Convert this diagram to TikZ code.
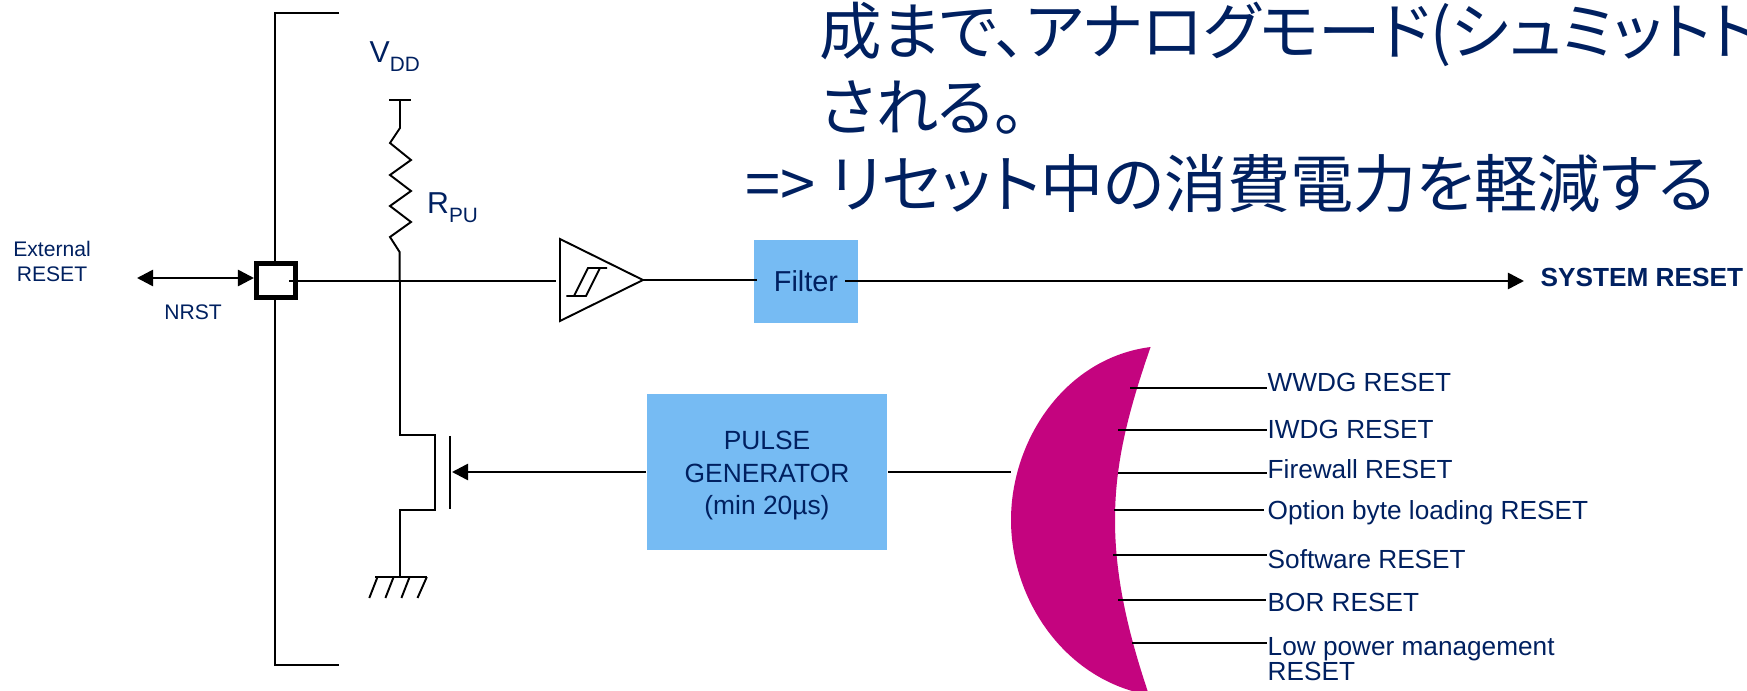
\documentclass[tikz,border=0pt]{standalone}
\usepackage{fontspec}
\setmainfont{Liberation Sans}
\newfontfamily\cjk[RawFeature={+palt}]{Noto Sans CJK JP}
\usetikzlibrary{arrows.meta}
\definecolor{navytxt}{HTML}{002060}
\definecolor{boxblue}{HTML}{76BBF3}
\definecolor{lensred}{HTML}{C4047F}
\tikzset{
  wire/.style={black,line width=0.55pt},
  buswire/.style={black,line width=0.75pt},
  tip/.style={-{Triangle[length=4.6pt,width=4.6pt]}},
  lbl/.style={anchor=base west,inner sep=0pt,text=navytxt},
  small/.style={lbl,font=\fontsize{7.45pt}{8pt}\selectfont},
  tiny/.style={inner sep=0pt,text=navytxt,align=center,font=\fontsize{6pt}{7.1pt}\selectfont},
  bluebox/.style={fill=boxblue,inner sep=0pt,text=navytxt,align=center},
  head/.style={lbl,font=\cjk\fontsize{17.75pt}{20pt}\selectfont},
}
\newcommand{\bigsub}[2]{\fontsize{8.6pt}{10pt}\selectfont #1\raisebox{-2.4pt}{\fontsize{5.9pt}{7pt}\selectfont #2}}
\begin{document}
\begin{tikzpicture}[x=0.01cm,y=-0.01cm]
\useasboundingbox (0,0) rectangle (1747,691);
\clip (0,0) rectangle (1747,691);

% headline
\node[head] (line1) at (819,55) {成まで、アナログモード(シュミットトリ};
\node[head] (line2) at (819,131) {される。};
\node[head,font=\cjk\fontsize{17.95pt}{20pt}\selectfont] (line3) at (745,208) {=> リセット中の消費電力を軽減する};

% package edge
\coordinate (edgea) at (339,13);
\coordinate (edgeb) at (275,13);
\coordinate (edgec) at (275,665);
\coordinate (edged) at (339,665);
\draw[wire] (edgea) -- (edgeb) -- (edgec) -- (edged);

% pin
\node[draw=black,fill=white,line width=1.42pt,minimum width=0.39cm,minimum height=0.34cm,inner sep=0pt] (pin) at (276,280.5) {};
\coordinate (padin) at (289,281);
\coordinate (extl) at (137,278);
\coordinate (extr) at (254,278);
\draw[buswire,{Triangle[length=4.6pt,width=4.6pt]}-{Triangle[length=4.6pt,width=4.6pt]}] (extl) -- (extr);
\node[tiny] (ext) at (52,261) {External\\RESET};
\node[tiny] (nrst) at (193,312) {NRST};

% pull up
\node[lbl] (vdd) at (369,63) {\bigsub{V}{DD}};
\node[lbl] (rpu) at (426.5,214) {\bigsub{R}{PU}};
\coordinate (vtl) at (389,100);
\coordinate (vtr) at (411,100);
\coordinate (vt) at (400,100);
\coordinate (node) at (399.6,281);
\draw[wire] (vtl) -- (vtr);
\draw[wire] (vt) -- (400,128) -- (390,143) -- (411,160) -- (390,175) -- (411,191) -- (390,206) -- (411,222) -- (390,237) -- (399.6,252) -- (node);

% transistor
\coordinate (draina) at (399.6,435);
\coordinate (drainb) at (434.6,435);
\coordinate (sourcea) at (399.6,510);
\coordinate (sourceb) at (434.6,510);
\coordinate (gnd) at (399.6,577);
\coordinate (gatea) at (450,436);
\coordinate (gateb) at (450,509);
\coordinate (gatein) at (452,472);
\draw[wire] (node) -- (draina) -- (drainb) -- (sourceb) -- (sourcea) -- (gnd);
\draw[wire] (gatea) -- (gateb);

% ground
\coordinate (gnda) at (375,577);
\coordinate (gndb) at (427,577);
\draw[wire] (gnda) -- (gndb);
\draw[wire] (377.5,577) -- (369.3,598);
\draw[wire] (393.6,577) -- (385.4,598);
\draw[wire] (409.6,577) -- (401.4,598);
\draw[wire] (426.8,577) -- (417.5,598);

% schmitt trigger
\coordinate (trgin) at (556,281);
\coordinate (trga) at (560,239);
\coordinate (trgb) at (560,321);
\coordinate (trgout) at (643,280);
\draw[wire] (padin) -- (trgin);
\draw[wire] (trga) -- (trgout) -- (trgb) -- cycle;
\draw[wire] (566.4,296) -- (586,296) -- (600,268);
\draw[wire] (574,296) -- (588,268) -- (607,268);

% filter
\node[bluebox,minimum width=1.04cm,minimum height=0.83cm,font=\fontsize{8.2pt}{9pt}\selectfont] (filter) at (806,281.5) {Filter};
\coordinate (filin) at (757,280);
\coordinate (filout) at (845,281);
\coordinate (sysin) at (1524,281);
\draw[wire] (trgout) -- (filin);
\draw[buswire,tip] (filout) -- (sysin);
\node[lbl,font=\bfseries\fontsize{7.45pt}{8pt}\selectfont] (sysrst) at (1540,287) {SYSTEM RESET};

% pulse generator
\node[bluebox,minimum width=2.40cm,minimum height=1.56cm,font=\fontsize{7.5pt}{9.25pt}\selectfont] (pulse) at (767,472) {\rule{0pt}{7.3pt}PULSE\\GENERATOR\\(min 20µs)};
\coordinate (lensin) at (1011,472);
\draw[buswire,tip] (pulse.west) -- (gatein);
\draw[wire] (pulse.east) -- (lensin);

% reset sources
\fill[lensred] (1150.6,347) .. controls (1065,358) and (1011,440) .. (1011,520) .. controls (1011,600) and (1065,680) .. (1149,695) .. controls (1127,630) and (1115,575) .. (1115,520) .. controls (1115,465) and (1127,415) .. (1150.6,347);

\node[small] (wwdg) at (1267,392) {WWDG RESET};
\node[small] (iwdg) at (1267,439) {IWDG RESET};
\node[small] (fw) at (1267,479) {Firewall RESET};
\node[small] (obl) at (1267,520) {Option byte loading RESET};
\node[small] (sw) at (1267,568) {Software RESET};
\node[small] (bor) at (1267,612) {BOR RESET};
\node[small] (lpm) at (1267,656) {Low power management};
\node[small] (lpmb) at (1267,681) {RESET};

\coordinate (wwdgin) at (1130,388);
\coordinate (iwdgin) at (1118,430);
\coordinate (fwin) at (1118,473);
\coordinate (oblin) at (1114,510);
\coordinate (swin) at (1113,555);
\coordinate (borin) at (1118,600);
\coordinate (lpmin) at (1132,643);
\draw[wire] (wwdgin) -- (wwdgin -| wwdg.west);
\draw[wire] (iwdgin) -- (iwdgin -| iwdg.west);
\draw[wire] (fwin) -- (fwin -| fw.west);
\draw[wire] (oblin) -- (1264,510);
\draw[wire] (swin) -- (swin -| sw.west);
\draw[wire] (borin) -- (1266,600);
\draw[wire] (lpmin) -- (lpmin -| lpm.west);
\end{tikzpicture}
\end{document}
